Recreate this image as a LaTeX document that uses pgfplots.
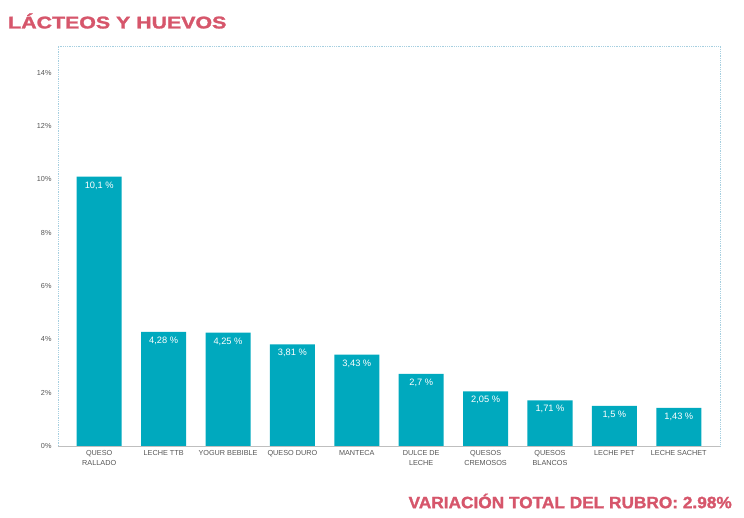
\documentclass[border=0pt]{standalone}
\usepackage{pgfplots}
\pgfplotsset{compat=1.18}
\usepackage{pgfplotstable}
\usepackage{fontspec}
\setmainfont{Liberation Sans}
\newfontfamily\heavy{Liberation Sans}[BoldFeatures={FakeBold=1.5}]
\definecolor{barc}{HTML}{00A9BE}
\definecolor{titc}{HTML}{D6566B}
\definecolor{frc}{HTML}{A6CFE0}
\definecolor{txtc}{HTML}{555555}
\pgfplotstableread{
x y lab
0 10.1 {10,1 \%}
1 4.28 {4,28 \%}
2 4.25 {4,25 \%}
3 3.81 {3,81 \%}
4 3.43 {3,43 \%}
5 2.7 {2,7 \%}
6 2.05 {2,05 \%}
7 1.71 {1,71 \%}
8 1.5 {1,5 \%}
9 1.43 {1,43 \%}
}\datatab
\begin{document}
\begin{tikzpicture}[x=1bp,y=1bp]
\path[use as bounding box] (-58,-72) rectangle (686,446);
\begin{axis}[
  at={(0,0)}, anchor=south west,
  scale only axis, width=662bp, height=400bp,
  xmin=-0.64, xmax=9.64, ymin=0, ymax=15,
  axis line style={draw=none},
  ytick={0,2,4,6,8,10,12,14},
  yticklabels={0\%,2\%,4\%,6\%,8\%,10\%,12\%,14\%},
  yticklabel style={font=\fontsize{7.3}{8}\selectfont, text=txtc, xshift=-3bp},
  xtick=data,
  xticklabels={{QUESO\\RALLADO},{LECHE TTB},{YOGUR BEBIBLE},{QUESO DURO},{MANTECA},{DULCE DE\\LECHE},{QUESOS\\CREMOSOS},{QUESOS\\BLANCOS},{LECHE PET},{LECHE SACHET}},
  xticklabel style={font=\fontsize{7.3}{10}\selectfont, text=txtc, align=center, yshift=-0.5bp},
  major tick length=0pt,
  ybar, bar width=45bp,
  nodes near coords,
  point meta=explicit symbolic,
  every node near coord/.append style={font=\fontsize{9.3}{10}\selectfont, text=white, anchor=north, yshift=-1.5bp},
  clip=false,
]
\addplot[fill=barc, draw=none] table[x=x, y=y, meta=lab] {\datatab};
\draw[frc, densely dotted, line width=0.8pt] (rel axis cs:0,0) -- (rel axis cs:0,1) -- (rel axis cs:1,1) -- (rel axis cs:1,0);
\draw[black!25, line width=0.8pt] (rel axis cs:0,0) -- (rel axis cs:1,0);
\end{axis}
\node[anchor=west, text=titc, font=\fontsize{17}{18}\selectfont\heavy\bfseries, inner sep=0pt] at (-50,425) {\scalebox{1.26}[1]{LÁCTEOS Y HUEVOS}};
\node[anchor=east, text=titc, font=\fontsize{16.5}{18}\selectfont\heavy\bfseries, inner sep=0pt] at (674,-55) {\scalebox{1.05}[1]{VARIACIÓN TOTAL DEL RUBRO: 2.98\%}};
\end{tikzpicture}
\end{document}
